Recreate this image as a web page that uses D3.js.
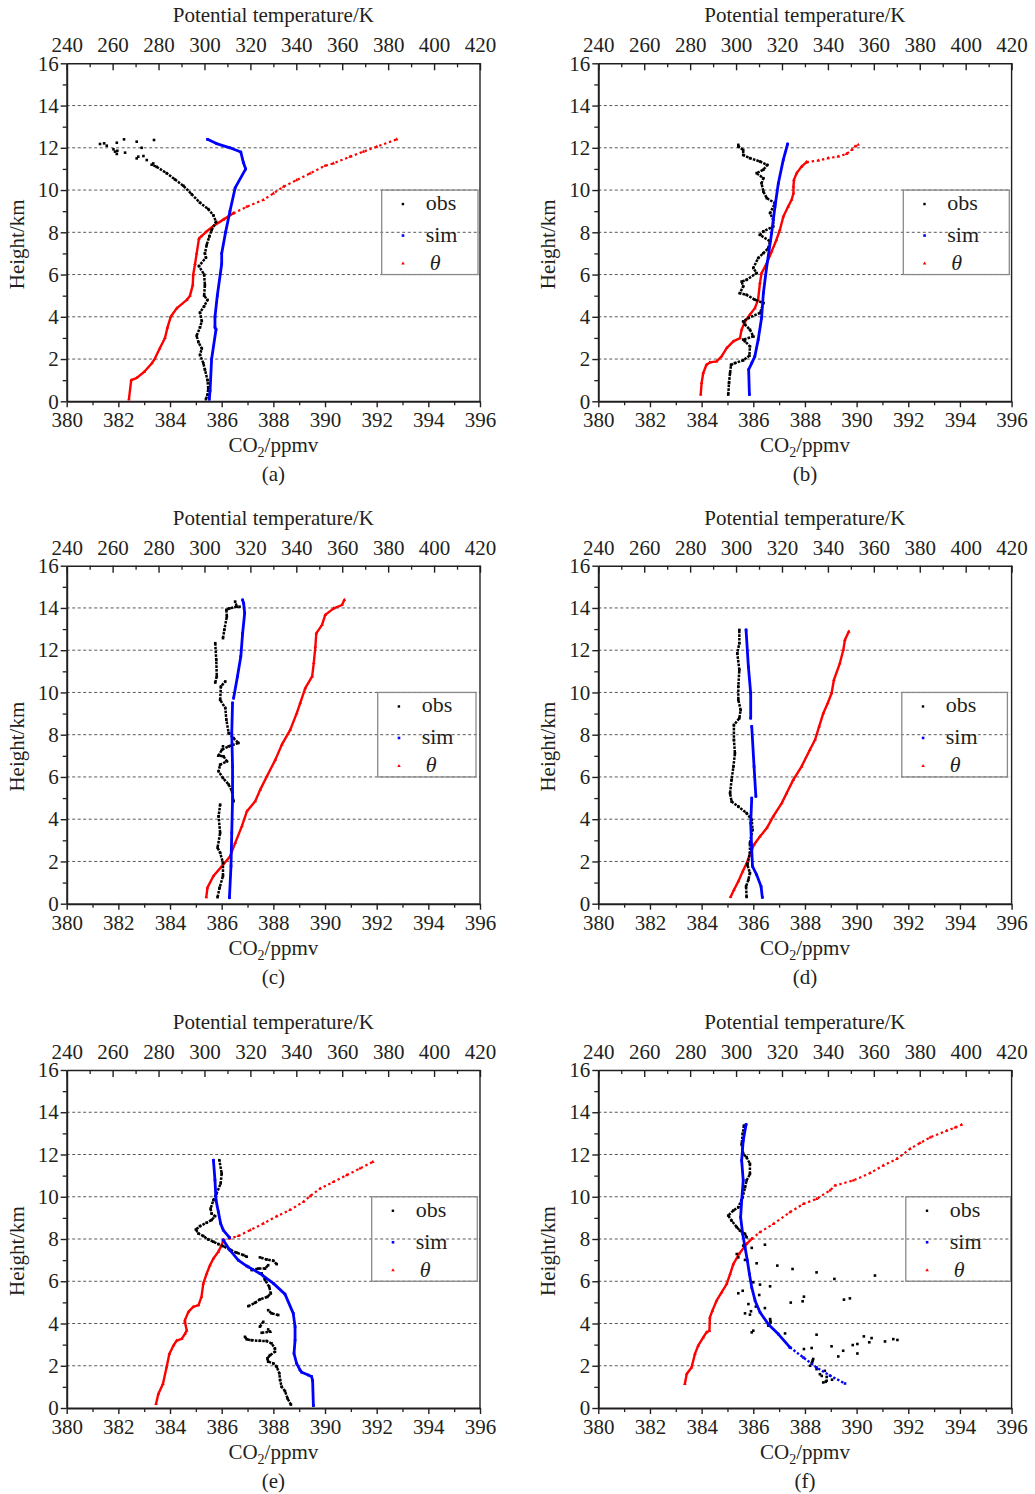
<!DOCTYPE html>
<html><head><meta charset="utf-8">
<script src="https://cdn.jsdelivr.net/npm/d3@7"></script>
<style>
body{margin:0;background:#fff}
svg{display:block}
text{font-family:"Liberation Serif","Times New Roman",serif;fill:#231f20}
.ax text{font-size:21px;font-family:"Liberation Serif","Times New Roman",serif;fill:#231f20}
</style>
</head><body>
<svg id="c" width="1035" height="1494"></svg>
<script>
// ---------- tick labels / categories ----------
const co2Ticks = [380,382,384,386,388,390,392,394,396];
const co2Minor = [381,383,385,387,389,391,393,395];
const thetaTicks = [240,260,280,300,320,340,360,380,400,420];
const thetaMinor = [250,270,290,310,330,350,370,390,410];
const heightTicks = [0,2,4,6,8,10,12,14,16];
const heightMinor = [1,3,5,7,9,11,13,15];
const gridValues = [2,4,6,8,10,12,14];
const panelLabels = ['(a)','(b)','(c)','(d)','(e)','(f)'];
const legendNames = ['obs','sim','θ'];

// ---------- data: [height km, CO2 ppmv] or [height km, theta K]; null = break ----------
// (a)
const obsA = [[0.1,385.39],[0.3,385.45],[0.6,385.48],[1.0,385.45],[1.5,385.35],[1.8,385.29],[2.2,385.16],[2.5,385.23],[2.8,385.10],[3.1,385.03],[3.5,385.16],[3.8,385.23],[4.2,385.16],[4.5,385.32],[4.8,385.45],[5.0,385.32],[5.5,385.35],[6.0,385.32],[6.4,385.12],[6.8,385.39],[7.0,385.35],[7.4,385.42],[7.8,385.52],[8.1,385.61],[8.5,385.78],[8.8,385.68],[9.1,385.48],[9.4,385.16],[9.8,384.84],[10.2,384.52],[10.5,384.19],[10.8,383.87],[11.1,383.48],[11.2,383.29]];
const obsAPts = [[11.26,383.35],[11.42,383.10],[11.50,382.71],[11.58,382.77],[11.61,382.97],[12.0,382.90],[11.71,381.94],[11.82,381.87],[11.93,381.81],[12.10,381.55],[12.18,381.29],[12.21,381.45],[12.24,381.94],[12.40,382.22],[12.29,382.71],[12.37,383.38],[11.77,382.26],[11.86,381.96]];
const simA = [[0.1,385.52],[0.5,385.55],[2.0,385.61],[3.4,385.78],[3.5,385.74],[4.0,385.74],[5.0,385.83],[6.5,386.0],[7.0,386.0],[8.0,386.15],[9.0,386.32],[10.1,386.52],[11.0,386.93],[11.3,386.84],[11.8,386.74],[12.0,386.32],[12.2,385.8],[12.4,385.45]];
const simASp = [];
const thA = [[0.1,267.1],[1.0,268.1],[1.1,270.4],[1.4,273.8],[1.8,277.1],[2.0,278.3],[2.5,280.5],[3.0,282.8],[3.5,283.9],[4.0,285.3],[4.4,287.9],[4.8,292.3],[5.0,293.7],[5.5,294.9],[6.0,295.1],[6.5,295.9],[7.0,296.6],[7.7,297.6],[7.8,298.5],[8.0,300.5],[8.3,303.9],[8.6,308.2],[8.9,312.6]];
const thASp = [[8.9,312.6],[9.21,318.4],[9.53,325.6],[9.84,330.0],[10.16,334.4],[10.47,340.1],[10.79,346.0],[11.15,352.5],[11.26,356.1],[11.58,363.4],[11.82,369.2],[12.05,375.0],[12.4,383.7]];
// (b)
const obsB = [[0.32,385.03],[0.87,385.06],[1.34,385.10],[1.73,385.14],[1.81,385.29],[1.94,385.61],[2.16,385.85],[2.60,385.87],[2.84,385.68],[2.92,385.61],[3.07,386.0],[3.39,385.87],[3.63,385.68],[3.78,385.61],[3.94,385.81],[4.18,386.26],[4.65,386.39],[4.81,386.06],[5.04,385.74],[5.12,385.48],[5.44,385.61],[5.67,385.55],[5.75,385.74],[6.07,386.13],[6.31,386.0],[6.78,386.19],[7.01,386.39],[7.25,386.58],[7.57,386.65],[7.88,386.26],[8.04,386.39],[8.28,386.77],[8.59,386.77],[8.91,386.65],[9.38,386.84],[9.62,386.52],[9.93,386.39],[10.32,386.32],[10.56,386.39],[10.80,386.13],[10.96,386.39],[11.19,386.54],[11.35,386.26],[11.51,385.87],[11.66,385.61],[11.90,385.61],[12.06,385.42],[12.14,385.42]];
const obsBPts = [];
const simB = [[0.32,385.85],[1.50,385.82],[1.81,385.94],[2.13,386.06],[2.92,386.19],[3.94,386.32],[5.12,386.39],[6.38,386.52],[7.96,386.71],[9.22,386.84],[10.32,386.97],[11.43,387.16],[12.18,387.33]];
const simBSp = [];
const thB = [[0.32,284.6],[0.87,285.0],[1.34,285.7],[1.73,287.1],[1.84,288.6],[1.89,291.5],[2.13,293.7],[2.52,295.9],[2.84,298.8],[2.99,301.7],[3.39,302.4],[3.78,303.9],[4.10,306.0],[4.41,308.2],[4.81,309.6],[5.60,310.4],[6.07,311.1],[6.54,313.4],[7.09,315.5],[7.65,317.6],[8.12,319.1],[8.75,320.6],[9.22,322.7],[9.54,324.2],[9.85,325.0],[10.17,325.0],[10.48,325.2],[10.80,326.4],[11.11,328.5],[11.32,330.7]];
const thBSp = [[11.32,330.7],[11.40,335.9],[11.51,340.1],[11.59,344.5],[11.71,348.1],[11.90,350.4],[12.06,351.8],[12.14,353.2]];
// (c)
const obsC = [[0.31,385.84],[0.76,385.92],[1.31,386.05],[1.94,386.05],[2.41,385.94],[2.65,385.84],[3.35,385.94],[4.14,385.88],[4.69,385.94],null,[4.85,386.46],[5.32,386.40],[5.64,386.27],[5.95,386.05],[6.27,385.88],[6.58,385.94],[6.74,386.20],[6.98,386.07],[7.01,385.88],[7.29,386.01],[7.45,386.27],[7.61,386.65],[7.84,386.46],[8.08,386.27],[8.71,386.18],[9.26,386.14],[9.65,385.94],[10.28,385.97],[10.52,386.14],null,[10.47,385.75],[10.76,385.81],[11.54,385.79],[12.33,385.75],null,[12.57,386.05],[12.96,386.10],[13.59,386.20],[13.91,386.18],[13.98,386.30],[14.06,386.59],[14.30,386.52]];
const obsCPts = [[14.06,386.69],[7.45,386.05]];
const simC = [[0.28,386.30],[1.78,386.36],[3.35,386.39],[4.93,386.42],[6.50,386.42],[8.08,386.39],[9.50,386.42],null,[9.73,386.46],[10.76,386.61],[11.70,386.74],[12.80,386.81],[13.75,386.89],[14.22,386.85],[14.38,386.81]];
const simCSp = [];
const thC = [[0.31,300.8],[0.76,301.3],[1.31,303.9],[1.78,307.6],[2.25,311.2],[2.88,313.4],[3.67,316.3],[4.38,318.5],[4.85,322.1],[5.40,324.3],[6.03,327.2],[6.82,330.9],[7.53,333.7],[8.24,337.4],[9.02,340.2],[9.50,341.7],[10.20,343.9],[10.76,346.9],[11.39,347.6],[12.17,348.3],[12.80,348.7],[13.20,351.2],[13.67,352.6],[13.98,356.3],[14.14,359.9],[14.38,360.9]];
const thCSp = [];
// (d)
const obsD = [[0.32,385.74],[0.82,385.72],[1.13,385.81],[1.45,385.87],[1.84,385.77],[2.40,385.87],[2.87,385.87],[3.50,385.97],[3.97,385.94],[4.29,385.74],[4.60,385.42],[4.84,385.16],[5.23,385.10],[5.86,385.16],[6.49,385.23],[7.12,385.29],[7.76,385.25],[8.46,385.25],[8.78,385.46],[9.17,385.51],[9.65,385.42],[10.28,385.42],[11.07,385.46],[11.85,385.38],[12.33,385.46],[12.96,385.46]];
const obsDPts = [];
const simD = [[0.30,386.35],[0.82,386.30],[1.37,386.13],[1.77,385.97],[2.55,385.94],[3.81,385.90],[5.0,385.94],null,[5.08,386.10],[6.49,386.03],[8.39,385.94],null,[8.78,385.90],[9.96,385.90],[11.22,385.81],[12.96,385.72]];
const simDSp = [];
const thD = [[0.32,297.6],[0.66,299.1],[1.06,301.0],[1.53,302.9],[1.92,304.6],[2.32,306.0],[2.79,307.8],[3.18,310.4],[3.58,313.4],[4.13,316.2],[4.76,319.9],[5.23,322.0],[5.86,324.9],[6.49,328.5],[7.28,332.1],[7.76,334.4],[8.39,336.2],[9.02,338.0],[9.49,339.9],[9.96,341.6],[10.59,342.6],[11.38,345.2],[12.01,346.7],[12.48,347.4],[12.88,349.1]];
const thDSp = [];
// (e)
const obsE = [[0.16,388.68],[0.45,388.55],[0.8,388.45],[1.01,388.32],[1.32,388.26],[1.64,388.23],[1.95,388.13],[2.11,388.0],[2.19,387.8],[2.35,387.77],[2.5,387.87],[2.66,388.06],[2.82,388.06],[3.06,387.93],[3.17,387.74],[3.18,387.48],[3.21,387.16],[3.25,386.97],[3.37,386.9],null,[3.56,387.55],[3.61,387.87],[3.72,387.8],null,[3.85,387.48],[4.08,387.61],null,[4.4,388.19],[4.48,387.93],[4.63,387.8],null,[4.82,387.03],[4.98,387.29],[5.14,387.48],[5.26,387.77],[5.42,387.9],[5.74,387.84],[6.05,387.68],[6.37,387.55],null,[6.53,387.16],[6.6,387.42],[6.6,387.68],[6.76,387.8],null,[6.81,388.13],[6.97,388.0],[7.03,387.74],[7.13,387.48],null,[7.16,386.97],[7.24,386.84],[7.35,386.58],[7.5,386.32],[7.66,386.06],[7.76,385.87],[7.87,385.68],[7.98,385.48],[8.14,385.29],[8.26,385.1],[8.45,385.0],[8.61,385.16],[8.77,385.42],[8.9,385.61],[9.08,385.74],[9.2,385.61],[9.44,385.57],[9.84,385.68],[10.15,385.8],[10.63,385.96],[11.1,386.0],[11.73,385.91]];
const obsEPts = [[6.68,387.03]];
const simE = [[0.11,389.55],[1.30,389.52],[1.49,389.48],[1.56,389.35],[1.69,389.1],[1.8,389.03],[2.11,388.9],[2.58,388.8],[3.21,388.84],[3.85,388.84],[4.48,388.77],[5.39,388.45],[5.9,388.0],[6.37,387.48],[6.72,386.97],[7.0,386.64],[7.47,386.32],[7.95,386.06],null,[8.07,386.3],[8.42,386.06],[8.73,385.96],[9.29,385.87],[9.84,385.78],[10.79,385.74],[11.73,385.68]];
const simESp = [];
const thE = [[0.19,278.9],[0.66,279.9],[1.14,281.9],[1.93,283.5],[2.56,284.7],[2.96,286.5],[3.19,287.9],[3.27,290.1],[3.51,291.5],[3.67,292.3],[4.06,291.5],[4.16,291.5],[4.55,293.0],[4.79,295.1],[4.87,297.4],[5.26,298.7],[5.9,299.5],[6.37,301.0],[6.76,302.4],[7.08,303.9],[7.39,306.0],[7.71,307.5],[7.95,308.2]];
const thESp = [[7.95,308.2],[8.03,311.1],[8.14,314.7],[8.42,319.9],[8.73,325.6],[9.08,331.5],[9.37,337.2],[9.76,343.1],[10.03,346.0],[10.39,350.4],[10.70,356.1],[11.02,361.9],[11.34,367.7],[11.65,373.3]];
// (f)
const obsF = [[8.08,385.74],[8.24,385.68],[8.4,385.48],[8.56,385.36],[8.87,385.16],[9.11,385.03],[9.35,385.23],[9.5,385.42],[9.98,385.59],[10.45,385.68],[10.77,385.74],[11.08,385.87],[11.56,385.87],[11.87,385.74],[12.03,385.61],[12.5,385.55],[12.98,385.59],[13.37,385.64]];
const obsFPts = [[7.69,385.61],[7.58,385.94],[7.73,386.45],[7.29,385.36],[7.13,385.42],[7.01,385.68],[6.85,386.13],[6.74,386.93],[6.58,387.52],[6.42,388.45],[6.11,389.14],[6.27,390.71],[5.95,386.0],[5.84,386.26],[5.76,386.65],[5.43,385.42],[5.55,385.59],[5.35,386.23],[5.27,387.96],[5.05,387.91],[4.99,387.45],[5.13,389.51],[5.19,389.74],[4.92,385.81],[4.73,386.45],[4.80,386.10],[4.48,385.68],[4.58,385.91],[4.42,385.87],[4.21,386.65],[4.13,386.66],[4.05,386.67],[3.97,386.62],[3.90,386.58],[3.66,386.0],[3.58,385.94],[3.53,387.23],[3.47,388.45],[3.39,390.28],[3.31,390.58],[3.11,390.49],[3.15,391.10],[3.26,391.42],[3.22,391.58],[2.92,389.03],[2.79,387.96],[2.84,388.26],[2.98,389.85],[3.03,390.03],[2.71,389.48],[2.44,389.29],[2.58,390.03],[2.32,388.32],[2.25,388.30],[2.18,388.28],[2.11,388.26],[2.0,388.20],[1.84,388.45],[1.60,388.58],[1.76,388.77],[1.47,388.84],[1.21,388.71],[1.24,388.80],[1.29,388.84],[1.52,388.65],[1.34,389.05]];
const simF = [[2.87,387.42],[3.5,386.97],[3.97,386.58],[4.53,386.26],[5.08,386.07],[5.71,385.94],[6.34,385.85],[6.98,385.77],[7.61,385.68],[8.24,385.59],[9.03,385.51],[9.82,385.55],[10.77,385.61],[11.72,385.55],[12.66,385.61],[13.42,385.72]];
const simFSp = [[2.87,387.42],[2.39,387.94],[1.92,388.45],[1.53,388.97],[1.16,389.55]];
const thF = [[1.14,277.7],[1.61,278.5],[1.92,280.6],[2.56,282.1],[2.95,283.5],[3.34,285.7],[3.58,287.1],[3.66,288.4],[4.29,288.6],[4.61,289.7],[5.08,291.5],[5.47,293.7],[5.87,295.9],[6.34,297.4],[6.81,298.8],[7.29,301.3],[7.77,304.6],[8.0,306.8]];
const thFSp = [[8.0,306.8],[8.32,310.4],[8.71,316.2],[9.27,323.5],[9.66,329.3],[9.9,335.1],[10.3,340.9],[10.53,343.1],[10.77,351.0],[11.12,358.4],[11.48,364.1],[11.79,370.0],[12.27,375.8],[12.54,380.1],[12.81,384.5],[13.12,391.7],[13.28,395.4],[13.41,398.2]];

// table built from the arrays above
const panels = [
  {obs:obsA, obsPts:obsAPts, sim:simA, simSp:simASp, th:thA, thSp:thASp},
  {obs:obsB, obsPts:obsBPts, sim:simB, simSp:simBSp, th:thB, thSp:thBSp},
  {obs:obsC, obsPts:obsCPts, sim:simC, simSp:simCSp, th:thC, thSp:thCSp},
  {obs:obsD, obsPts:obsDPts, sim:simD, simSp:simDSp, th:thD, thSp:thDSp},
  {obs:obsE, obsPts:obsEPts, sim:simE, simSp:simESp, th:thE, thSp:thESp},
  {obs:obsF, obsPts:obsFPts, sim:simF, simSp:simFSp, th:thF, thSp:thFSp}
];

// ---------- layout (positions/styles) ----------
const W = 413.3, H = 338;
const layout = [
  {ox:66.7,  oy:63.3,  lx:315,   lw:96.3},
  {ox:598.3, oy:63.3,  lx:305,   lw:106},
  {ox:66.7,  oy:565.7, lx:311,   lw:98.3},
  {ox:598.3, oy:565.7, lx:303.5, lw:105.6},
  {ox:66.7,  oy:1070,  lx:305,   lw:105.6},
  {ox:598.3, oy:1070,  lx:307.5, lw:105}
];
const COL = {obs:'#000000', sim:'#0000ff', th:'#ff0000'};
const ink = '#231f20';

const svg = d3.select('#c');
const x = d3.scaleLinear().domain([380,396]).range([0,W]);
const xt = d3.scaleLinear().domain([240,420]).range([0,W]);
const y = d3.scaleLinear().domain([0,16]).range([H,0]);
const lineC = d3.line().defined(d => d !== null).x(d => x(d[1])).y(d => y(d[0]));
const lineT = d3.line().defined(d => d !== null).x(d => xt(d[1])).y(d => y(d[0]));
const tri = d3.symbol(d3.symbolTriangle).size(5.5);

panels.forEach((p, i) => {
  const L = layout[i];
  const g = svg.append('g').attr('transform', `translate(${L.ox},${L.oy})`);

  // grid
  g.selectAll('line.grid').data(gridValues).join('line')
    .attr('x1', 0).attr('x2', W)
    .attr('y1', d => y(d)).attr('y2', d => y(d))
    .attr('stroke', '#5a5a5a').attr('stroke-width', 1).attr('stroke-dasharray', '3,2.5');

  // theta (red)
  g.append('path').attr('d', lineT(p.th)).attr('fill','none').attr('stroke',COL.th)
    .attr('stroke-width',2.4).attr('stroke-linejoin','round').attr('stroke-linecap','round');
  if (p.thSp.length) g.append('path').attr('d', lineT(p.thSp)).attr('fill','none').attr('stroke',COL.th)
    .attr('stroke-width',2.2).attr('stroke-dasharray','2.4,2.8');
  g.selectAll('path.thm').data(p.th.concat(p.thSp).filter(d => d)).join('path')
    .attr('class','thm').attr('d', tri).attr('fill', COL.th)
    .attr('transform', d => `translate(${xt(d[1])},${y(d[0])})`);

  // obs (black)
  g.append('path').attr('d', lineC(p.obs)).attr('fill','none').attr('stroke',COL.obs)
    .attr('stroke-width',2.5).attr('stroke-dasharray','2.6,1.1');
  g.selectAll('rect.obm').data(p.obs.concat(p.obsPts).filter(d => d)).join('rect')
    .attr('class','obm').attr('width',2.6).attr('height',2.6).attr('fill',COL.obs)
    .attr('x', d => x(d[1]) - 1.3).attr('y', d => y(d[0]) - 1.3);

  // sim (blue)
  g.append('path').attr('d', lineC(p.sim)).attr('fill','none').attr('stroke',COL.sim)
    .attr('stroke-width',2.8).attr('stroke-linejoin','round').attr('stroke-linecap','round');
  if (p.simSp.length) g.append('path').attr('d', lineC(p.simSp)).attr('fill','none').attr('stroke',COL.sim)
    .attr('stroke-width',2.4).attr('stroke-dasharray','2.4,2');
  g.selectAll('rect.sim').data(p.sim.concat(p.simSp).filter(d => d)).join('rect')
    .attr('class','sim').attr('width',2.6).attr('height',2.6).attr('fill',COL.sim)
    .attr('x', d => x(d[1]) - 1.3).attr('y', d => y(d[0]) - 1.3);

  // legend
  const lt = y(10), lb = y(6);
  const lg = g.append('g').attr('transform', `translate(${L.lx},${lt})`);
  lg.append('rect').attr('width', L.lw).attr('height', lb - lt)
    .attr('fill','none').attr('stroke','#8a8a8a').attr('stroke-width',1.3);
  const rowsY = [14, 45.5, 73.5], textY = [20, 52, 80];
  lg.append('rect').attr('x',20).attr('y',rowsY[0]-1.2).attr('width',2.4).attr('height',2.4).attr('fill',COL.obs);
  lg.append('rect').attr('x',20).attr('y',rowsY[1]-1.3).attr('width',2.6).attr('height',2.6).attr('fill',COL.sim);
  lg.append('path').attr('d', tri).attr('fill',COL.th).attr('transform',`translate(21.3,${rowsY[2]})`);
  legendNames.forEach((n, k) => {
    lg.append('text').attr('x', k === 2 ? 48 : 44).attr('y', textY[k])
      .attr('font-size', 22).attr('font-style', k === 2 ? 'italic' : 'normal').text(n);
  });

  // axes
  const axL = g.append('g').attr('class','ax').style('color', ink)
    .call(d3.axisLeft(y).tickValues(heightTicks).tickSizeInner(6).tickSizeOuter(0).tickPadding(2).tickFormat(d3.format('d')));
  axL.select('.domain').attr('stroke-width', 2);
  axL.selectAll('.tick line').attr('stroke-width', 1.4);
  g.append('g').style('color', ink)
    .call(d3.axisLeft(y).tickValues(heightMinor).tickSize(4).tickFormat(''))
    .call(s => s.select('.domain').remove())
    .selectAll('.tick line').attr('stroke-width', 1.3);

  const axB = g.append('g').attr('class','ax').attr('transform', `translate(0,${H})`).style('color', ink)
    .call(d3.axisBottom(x).tickValues(co2Ticks).tickSizeInner(6).tickSizeOuter(0).tickPadding(5).tickFormat(d3.format('d')));
  axB.select('.domain').attr('stroke-width', 2);
  axB.selectAll('.tick line').attr('stroke-width', 1.4);
  g.append('g').attr('transform', `translate(0,${H})`).style('color', ink)
    .call(d3.axisBottom(x).tickValues(co2Minor).tickSize(4).tickFormat(''))
    .call(s => s.select('.domain').remove())
    .selectAll('.tick line').attr('stroke-width', 1.3);

  const axT = g.append('g').attr('class','ax').style('color', ink)
    .call(d3.axisTop(xt).tickValues(thetaTicks).tickSizeInner(-7).tickSizeOuter(0).tickPadding(11).tickFormat(d3.format('d')));
  axT.select('.domain').attr('stroke-width', 1.6);
  axT.selectAll('.tick line').attr('stroke-width', 1.4);
  g.append('g').style('color', ink)
    .call(d3.axisTop(xt).tickValues(thetaMinor).tickSizeInner(-4).tickSizeOuter(0).tickFormat(''))
    .call(s => s.select('.domain').remove())
    .selectAll('.tick line').attr('stroke-width', 1.3);

  g.append('line').attr('x1', W).attr('x2', W).attr('y1', 0).attr('y2', H)
    .attr('stroke', ink).attr('stroke-width', 1.4);

  // titles
  g.append('text').attr('x', W/2).attr('y', -41).attr('text-anchor','middle')
    .attr('font-size', 21).text('Potential temperature/K');
  const t = g.append('text').attr('x', W/2).attr('y', H + 51).attr('text-anchor','middle').attr('font-size', 21);
  t.append('tspan').text('CO');
  t.append('tspan').attr('font-size', 14).attr('dy', 5).text('2');
  t.append('tspan').attr('dy', -5).text('/ppmv');
  g.append('text').attr('transform', `translate(-43,${181}) rotate(-90)`).attr('text-anchor','middle')
    .attr('font-size', 21).text('Height/km');
  g.append('text').attr('x', W/2).attr('y', H + 80).attr('text-anchor','middle')
    .attr('font-size', 21).text(panelLabels[i]);
});
</script>
</body></html>
